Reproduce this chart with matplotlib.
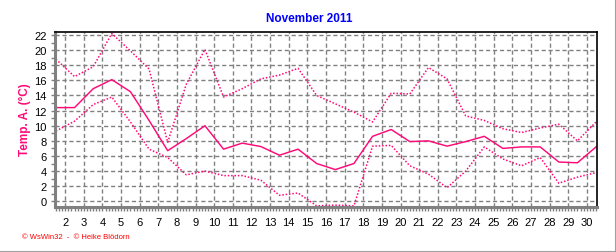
import numpy as np
import matplotlib
matplotlib.use("Agg")
import matplotlib.pyplot as plt
from matplotlib.ticker import MultipleLocator

# days of the month (values are plotted at noon -> day + 0.5)
days = list(range(1, 31))

# daily max / mean / min air temperature (deg C)
t_max = [18.8, 16.5, 17.8, 22.2, 19.9, 17.5, 7.8, 15.5, 20.1, 13.8,
         14.9, 16.2, 16.7, 17.6, 14.0, 12.9, 11.8, 10.5, 14.3, 14.2,
         17.7, 16.2, 11.3, 10.7, 9.6, 9.1, 9.7, 10.2, 8.0, 10.5]
t_mean = [12.4, 12.4, 14.9, 16.1, 14.5, 10.7, 6.7, 8.3, 10.0, 6.9,
          7.7, 7.25, 6.1, 6.9, 5.0, 4.2, 5.0, 8.6, 9.5, 7.9,
          8.0, 7.3, 7.9, 8.6, 7.0, 7.2, 7.2, 5.2, 5.1, 7.2]
t_min = [9.3, 10.6, 12.8, 13.8, 10.5, 6.9, 5.8, 3.5, 4.0, 3.4,
         3.4, 2.8, 0.8, 1.1, -0.6, -0.5, -0.6, 7.3, 7.4, 4.7,
         3.6, 1.8, 4.0, 7.2, 5.6, 4.7, 5.8, 2.4, 3.2, 3.8]

day_ticks = list(range(2, 31))
temp_ticks = list(range(0, 23, 2))

plt.rcParams['font.family'] = ['Liberation Sans', 'DejaVu Sans']

pink = '#ff0a78'
grey = '#808080'

fig = plt.figure(figsize=(6.16, 2.53), dpi=100)
ax = fig.add_axes([55/616, 45/253, 542/616, 175/253])

x = np.array(days) + 0.5
ax.plot(x, t_max, color=pink, lw=1.1, ls=(0, (1, 1.2)))
ax.plot(x, t_mean, color=pink, lw=1.05)
ax.plot(x, t_min, color=pink, lw=1.1, ls=(0, (1, 1.2)))

ax.set_xlim(1.45, 30.55)
ax.set_ylim(-0.75, 22.4)
ax.set_xticks(day_ticks)
ax.set_xticklabels([str(d) for d in day_ticks])
ax.set_yticks(temp_ticks)
ax.xaxis.set_minor_locator(MultipleLocator(1/6))
ax.yaxis.set_minor_locator(MultipleLocator(1))
ax.tick_params(which='both', direction='out', length=3, width=1, color=grey,
               labelsize=8, pad=3)
ax.tick_params(axis='x', pad=4)

ax.grid(True, color=grey, ls=(0, (3, 2)), lw=1.0)
ax.set_axisbelow(True)

for s in ['left', 'bottom']:
    ax.spines[s].set_color(grey)
    ax.spines[s].set_linewidth(2.2)
for s in ['top', 'right']:
    ax.spines[s].set_color('black')
    ax.spines[s].set_linewidth(1.2)

fig.text(309/616, 1 - 19/253, 'November 2011', color='#0000ff', fontsize=8.5,
         fontweight='bold', ha='center', va='center')
fig.text(25/616, 1 - 120/253, 'Temp. A. (°C)', color=pink, fontsize=8.5,
         fontweight='bold', rotation=90, ha='center', va='center')
fig.text(22/616, 1 - 238/253, '© WsWin32  -  © Heike Blödorn', color='red',
         fontsize=5.5, ha='left', va='center')

# grey frame at the right and bottom edge of the picture
fig.add_artist(plt.Line2D([0, 1], [0.5/253, 0.5/253], color='#a0a0a0', lw=1.5,
                          transform=fig.transFigure))
fig.add_artist(plt.Line2D([615.5/616, 615.5/616], [0, 1], color='#a0a0a0', lw=1.5,
                          transform=fig.transFigure))

fig.savefig('out.png', dpi=100)
